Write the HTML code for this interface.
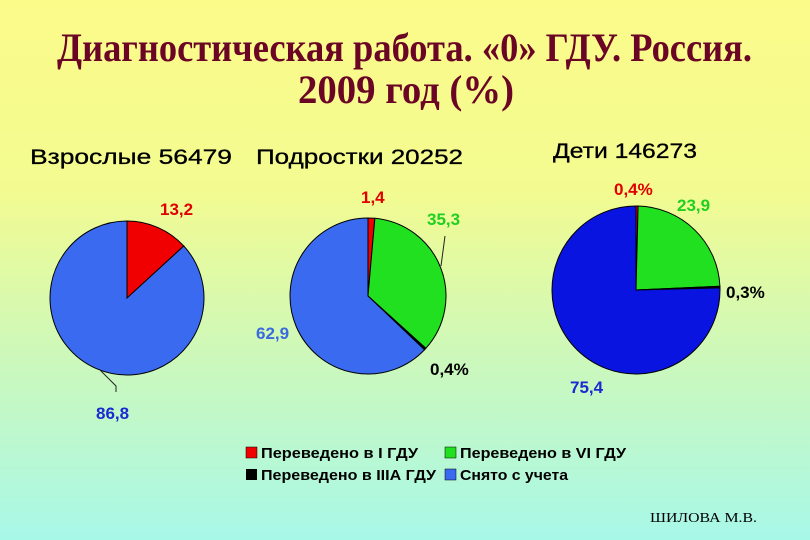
<!DOCTYPE html>
<html><head><meta charset="utf-8"><style>
body{margin:0;width:810px;height:540px;overflow:hidden}
svg{display:block}
</style></head><body>
<svg width="810" height="540" xmlns="http://www.w3.org/2000/svg">
<defs><linearGradient id="bg" x1="0" y1="0" x2="0" y2="1">
<stop offset="0" stop-color="#fbfb8a"/><stop offset="0.35" stop-color="#f3fb90"/><stop offset="0.7" stop-color="#c8f8c0"/><stop offset="1" stop-color="#a8f8e8"/></linearGradient></defs>
<rect width="810" height="540" fill="url(#bg)"/>
<g font-family="Liberation Serif, serif" font-weight="bold" fill="#6b0525" font-size="40">
<text x="57" y="61" textLength="695" lengthAdjust="spacingAndGlyphs">Диагностическая работа. «0» ГДУ. Россия.</text>
<text x="298" y="103" textLength="216" lengthAdjust="spacingAndGlyphs">2009 год  (%)</text>
</g>
<g font-family="Liberation Sans, sans-serif" font-size="21" fill="#000" stroke="#000" stroke-width="0.3">
<text x="30" y="164" textLength="202" lengthAdjust="spacingAndGlyphs">Взрослые 56479</text>
<text x="256" y="164" textLength="207" lengthAdjust="spacingAndGlyphs">Подростки  20252</text>
<text x="553" y="158" textLength="144" lengthAdjust="spacingAndGlyphs">Дети 146273</text>
</g>
<g id="pies"></g>
<g font-family="Liberation Sans, sans-serif" font-weight="bold" font-size="17">
<text x="160" y="215" fill="#e00000">13,2</text>
<text x="96" y="419" fill="#1a2ad0">86,8</text>
<path d="M100 370 L116 386 L116 392" stroke="#222" fill="none"/>
<text x="361" y="203" fill="#e00000">1,4</text>
<text x="427" y="225" fill="#20d020">35,3</text>
<path d="M445 236 L441 266" stroke="#222" fill="none"/>
<text x="430" y="375" fill="#000">0,4%</text>
<text x="256" y="339" fill="#3a6ae0">62,9</text>
<text x="614" y="195" fill="#e00000">0,4%</text>
<text x="677" y="211" fill="#20d020">23,9</text>
<text x="726" y="298" fill="#000">0,3%</text>
<text x="570" y="393" fill="#1a2ad0">75,4</text>
</g>
<g font-family="Liberation Sans, sans-serif" font-weight="bold" font-size="15" fill="#000">
<rect x="246" y="447" width="11" height="11" fill="#f00000" stroke="#000" stroke-width="0.5"/>
<text x="261" y="458" textLength="157" lengthAdjust="spacingAndGlyphs">Переведено в I ГДУ</text>
<rect x="445" y="447" width="11" height="11" fill="#20e020" stroke="#000" stroke-width="0.5"/>
<text x="460" y="458" textLength="166" lengthAdjust="spacingAndGlyphs">Переведено в VI ГДУ</text>
<rect x="246" y="469" width="11" height="11" fill="#000"/>
<text x="261" y="480" textLength="175" lengthAdjust="spacingAndGlyphs">Переведено в IIIА ГДУ</text>
<rect x="445" y="469" width="11" height="11" fill="#3a6af0" stroke="#000" stroke-width="0.5"/>
<text x="460" y="480" textLength="108" lengthAdjust="spacingAndGlyphs">Снято с учета</text>
</g>
<text x="650" y="522" font-family="Liberation Serif, serif" font-size="14" textLength="107" lengthAdjust="spacingAndGlyphs" fill="#000">ШИЛОВА М.В.</text>
</svg>
<script>
const categories = ["I ГДУ", "VI ГДУ", "IIIА ГДУ", "Снято с учета"];
const adultsValues = [13.2, 0, 0, 86.8];
const teensValues = [1.4, 35.3, 0.4, 62.9];
const childrenValues = [0.4, 23.9, 0.3, 75.4];
const colorsA = ["#f00000", "#20e020", "#000000", "#3a6af0"];
const colorsC = ["#f00000", "#20e020", "#000000", "#0a14e0"];
const NS = "http://www.w3.org/2000/svg";
const g = document.getElementById("pies");
function drawPie(vals, cx, cy, r, colors, name) {
  const tot = vals.reduce((a, b) => a + b, 0);
  let a0 = 0;
  vals.forEach((v, i) => {
    if (v <= 0) return;
    const a1 = a0 + v / tot * 2 * Math.PI;
    const x0 = cx + r * Math.sin(a0), y0 = cy - r * Math.cos(a0);
    const x1 = cx + r * Math.sin(a1), y1 = cy - r * Math.cos(a1);
    const large = (a1 - a0) > Math.PI ? 1 : 0;
    const p = document.createElementNS(NS, "path");
    p.setAttribute("d", `M${cx} ${cy} L${x0} ${y0} A${r} ${r} 0 ${large} 1 ${x1} ${y1} Z`);
    p.setAttribute("fill", colors[i]);
    p.setAttribute("stroke", "#000");
    p.setAttribute("stroke-width", "1");
    
    
    g.appendChild(p);
    a0 = a1;
  });
}
drawPie(adultsValues, 127, 298, 77, colorsA, "adults-pie");
drawPie(teensValues, 368, 296, 78, colorsA, "teens-pie");
drawPie(childrenValues, 636, 290, 84, colorsC, "children-pie");
</script>
</body></html>
